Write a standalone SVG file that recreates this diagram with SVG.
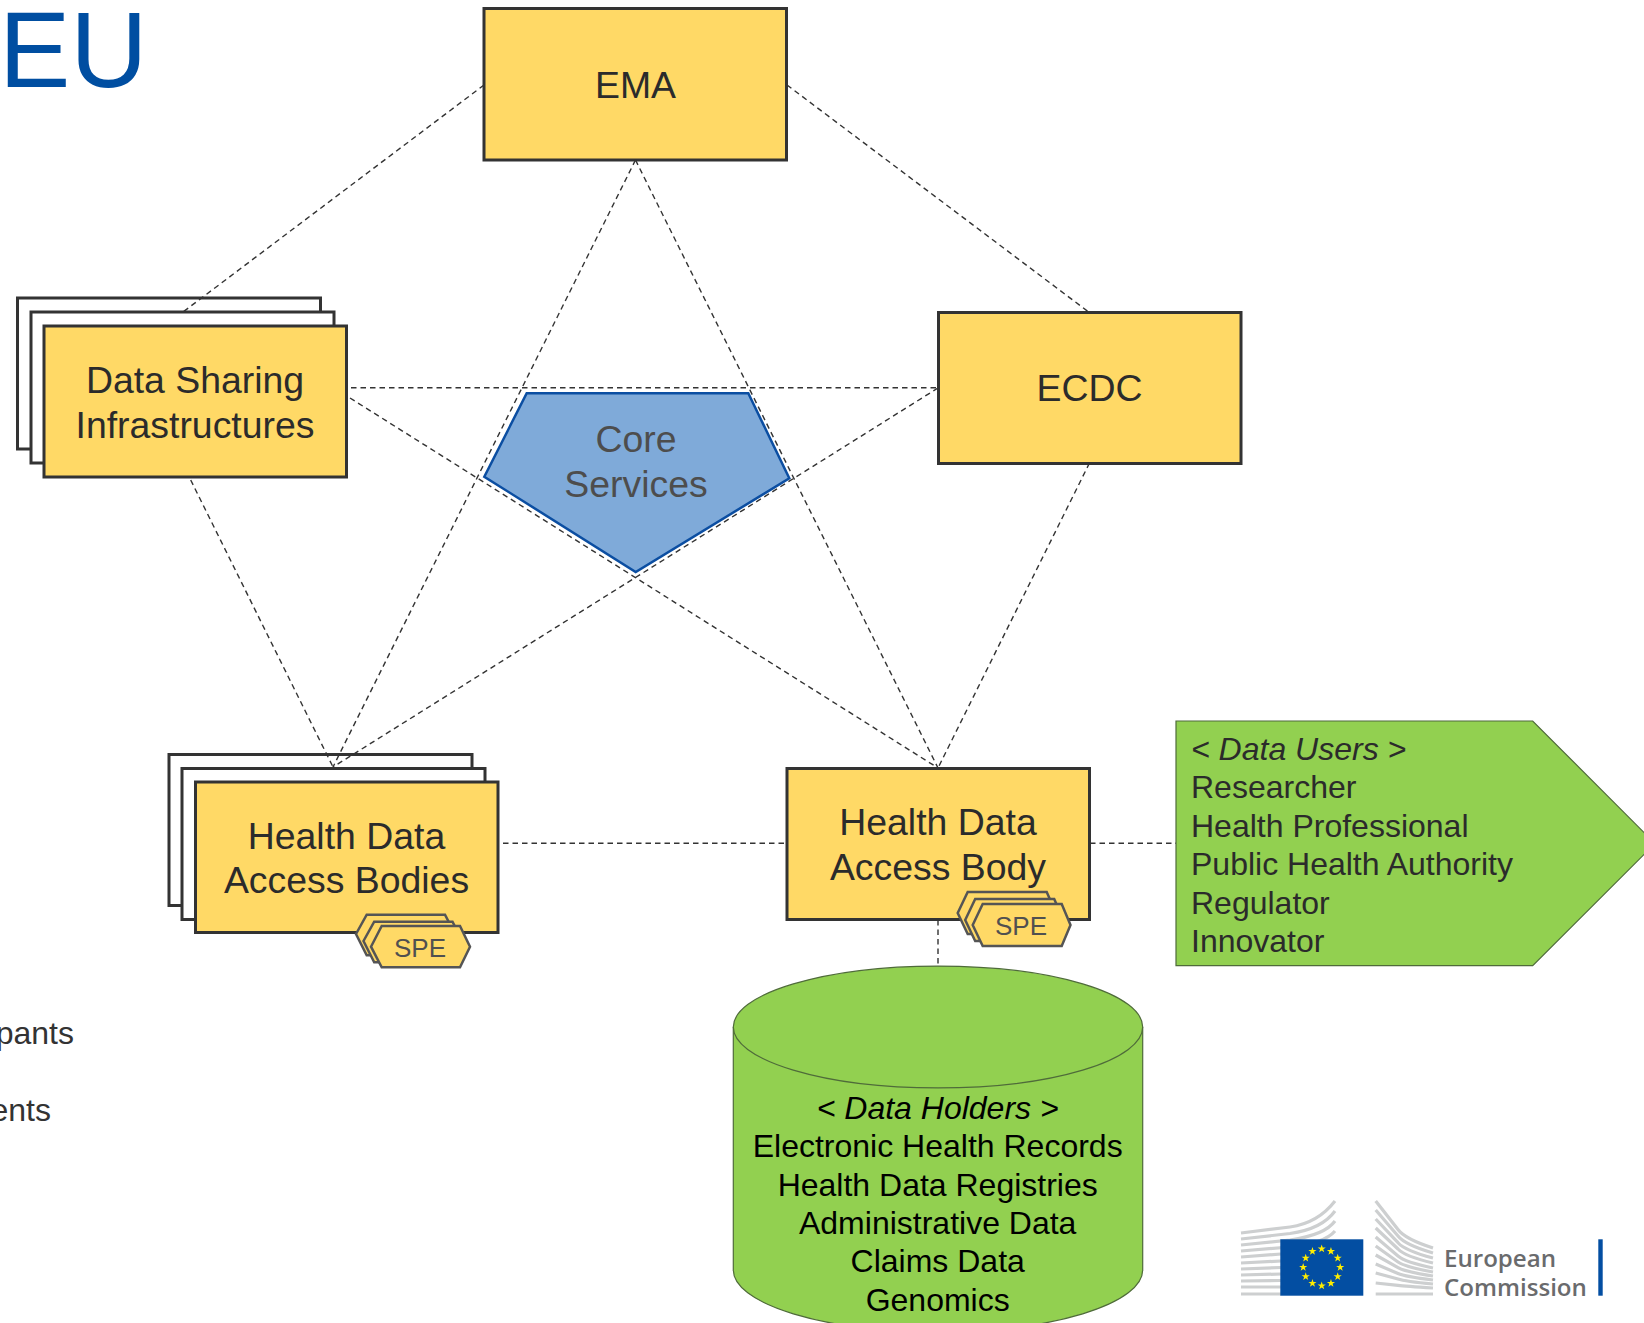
<svg xmlns="http://www.w3.org/2000/svg" width="1644" height="1323" viewBox="0 0 1644 1323">
<style>
text{font-family:"Liberation Sans",Arial,sans-serif}
.box{fill:#ffd966;stroke:#333;stroke-width:3}
.back{fill:#fff;stroke:#333;stroke-width:3}
.hex{fill:#ffd966;stroke:#555;stroke-width:2.5;stroke-linejoin:miter}
.lbl{font-size:37.4px;fill:#2b2b2b;text-anchor:middle}
.spe{font-size:26px;fill:#505050;text-anchor:middle}
.grn{fill:#92d050;stroke:#4f6b3a;stroke-width:1.2}
.usr{font-size:32px;fill:#2b2b2b}
.hld{font-size:32px;fill:#000;text-anchor:middle}
.side{font-size:32px;fill:#333;text-anchor:end}
.con{fill:none;stroke:#333;stroke-width:1.4;stroke-dasharray:5.5 4}
.st{fill:none;stroke:#cdcfd0;stroke-width:3.2}
.ec{font-family:"Open Sans",sans-serif;font-size:24.1px;font-weight:600;fill:#6a6b6d}
</style>
<defs>
<polygon id="star" fill="#ffed00" points="0,-4.3 1,-1.36 4.1,-1.33 1.6,.52 2.53,3.48 0,1.7 -2.53,3.48 -1.6,.52 -4.1,-1.33 -1,-1.36"/>
</defs>
<g id="title"><text x="-1" y="87" font-size="107" fill="#004ea1">EU</text></g>
<g id="side-text">
<text class="side" x="74" y="1044">pants</text>
<text class="side" x="51" y="1120.5">ents</text>
</g>
<g id="node-ema"><rect class="box" x="484" y="8.5" width="302.5" height="151.5"/><text class="lbl" x="635.5" y="98">EMA</text></g>
<g id="node-ecdc"><rect class="box" x="938.5" y="312.5" width="302.5" height="151"/><text class="lbl" x="1089.5" y="401">ECDC</text></g>
<g id="node-dsi">
<rect class="back" x="17.5" y="298" width="303" height="151"/>
<rect class="back" x="31" y="312" width="303" height="151"/>
<rect class="box" x="44" y="326" width="302.5" height="151"/>
<text class="lbl" x="195" y="392.7">Data Sharing</text>
<text class="lbl" x="195" y="438">Infrastructures</text>
</g>
<g id="node-core">
<polygon points="526.7,393.3 748.3,393.3 789.3,478.3 635.7,572 484.3,476.7" fill="#7faad9" stroke="#0b4ea2" stroke-width="2.5"/>
<text x="636" y="451.7" font-size="37.4" fill="#4d4d4d" text-anchor="middle">Core</text>
<text x="636" y="496.8" font-size="37.4" fill="#4d4d4d" text-anchor="middle">Services</text>
</g>
<g id="node-hdabs">
<rect class="back" x="169" y="754.5" width="303" height="151"/>
<rect class="back" x="182" y="768.5" width="303" height="151"/>
<rect class="box" x="195.5" y="782" width="302.5" height="150.5"/>
<text class="lbl" x="346.5" y="849">Health Data</text>
<text class="lbl" x="346.5" y="893">Access Bodies</text>
<polygon class="hex" points="356,934 366.7,914.7 445,914.7 455,934 445,955.3 366.7,955.3"/>
<polygon class="hex" points="363.5,941 374.2,921.7 452.5,921.7 462.5,941 452.5,962.3 374.2,962.3"/>
<polygon class="hex" points="371,946.7 381.7,926 460,926 470,946.7 460,967.3 381.7,967.3"/>
<text class="spe" x="420" y="956.7">SPE</text>
</g>
<g id="node-hdab">
<rect class="box" x="787" y="768.5" width="302.5" height="151"/>
<text class="lbl" x="938" y="835">Health Data</text>
<text class="lbl" x="938" y="880">Access Body</text>
<polygon class="hex" points="957.7,913 967.7,892 1046.7,892 1056,913 1046.7,934 967.7,934"/>
<polygon class="hex" points="965.2,920 975.2,899 1054.2,899 1063.5,920 1054.2,941 975.2,941"/>
<polygon class="hex" points="972.7,925 982.7,904 1061.7,904 1070.5,925 1061.7,946 982.7,946"/>
<text class="spe" x="1021" y="935">SPE</text>
</g>
<g id="node-users">
<polygon class="grn" points="1176,721 1532.7,721 1655,843.5 1532.7,965.7 1176,965.7"/>
<text class="usr" x="1191" y="759.7" font-style="italic">&lt; Data Users &gt;</text>
<text class="usr" x="1191" y="797.7">Researcher</text>
<text class="usr" x="1191" y="836.7">Health Professional</text>
<text class="usr" x="1191" y="875.3">Public Health Authority</text>
<text class="usr" x="1191" y="914">Regulator</text>
<text class="usr" x="1191" y="951.7">Innovator</text>
</g>
<g id="node-holders">
<path class="grn" d="M733.3 1027V1270A204.7 62 0 0 0 1142.7 1270V1027A204.7 61 0 0 0 733.3 1027Z"/>
<path class="grn" style="fill:none" d="M733.3 1027A204.7 61 0 0 0 1142.7 1027"/>
<text class="hld" x="937.7" y="1119" font-style="italic">&lt; Data Holders &gt;</text>
<text class="hld" x="937.7" y="1156.7">Electronic Health Records</text>
<text class="hld" x="937.7" y="1196">Health Data Registries</text>
<text class="hld" x="937.7" y="1234">Administrative Data</text>
<text class="hld" x="937.7" y="1272">Claims Data</text>
<text class="hld" x="937.7" y="1311">Genomics</text>
</g>
<g id="connectors">
<path class="con" d="M484 85L183 312"/>
<path class="con" d="M787 85L1090 313"/>
<path class="con" d="M635.5 160L333 767"/>
<path class="con" d="M635.5 160L938 768"/>
<path class="con" d="M351 387.7H938"/>
<path class="con" d="M350 398L938 768"/>
<path class="con" d="M190.7 480L333 767"/>
<path class="con" d="M938 388L333 767"/>
<path class="con" d="M1089.5 463L938 768"/>
<path class="con" d="M503 843.3H787"/>
<path class="con" d="M1090 843.3H1176"/>
<path class="con" d="M938 920V966"/>
</g>
<g id="logo">
<path class="st" d="M1241 1233L1290 1227Q1318 1223 1335 1201"/>
<path class="st" d="M1241 1239L1290 1233.5Q1322 1229 1335 1211"/>
<path class="st" d="M1241 1245L1290 1240Q1325 1235 1335 1221"/>
<path class="st" d="M1241 1251L1290 1247Q1325 1243 1335 1231"/>
<path class="st" d="M1241 1257L1281 1254"/>
<path class="st" d="M1241 1263L1281 1261"/>
<path class="st" d="M1241 1269L1281 1267.5"/>
<path class="st" d="M1241 1275L1281 1274"/>
<path class="st" d="M1241 1281L1281 1280.5"/>
<path class="st" d="M1241 1287L1281 1287"/>
<path class="st" d="M1241 1294H1281"/>
<path class="st" d="M1375.7 1201L1398 1229.5Q1405 1239 1433 1248"/>
<path class="st" d="M1375.7 1210L1398 1236Q1405 1244.8 1433 1253"/>
<path class="st" d="M1375.7 1219L1398 1242.7Q1405 1250.6 1433 1258"/>
<path class="st" d="M1375.7 1228L1398 1249Q1405 1256.4 1433 1263"/>
<path class="st" d="M1375.7 1237L1398 1256Q1405 1262.2 1433 1268"/>
<path class="st" d="M1375.7 1246L1398 1262Q1405 1267 1433 1272"/>
<path class="st" d="M1375.7 1255L1398 1267.6Q1405 1271.8 1433 1276"/>
<path class="st" d="M1375.7 1264L1398 1273.5Q1405 1276.6 1433 1280"/>
<path class="st" d="M1375.7 1273L1398 1279Q1405 1281.4 1433 1284"/>
<path class="st" d="M1375.7 1283L1398 1285.4Q1405 1286.2 1433 1288"/>
<path class="st" d="M1375.7 1294H1433"/>
<rect x="1280.3" y="1239.3" width="83" height="56.4" fill="#034ea2"/>
<g transform="translate(1321.7 1267.3)">
<use href="#star" x="0" y="-18.5"/><use href="#star" x="9.25" y="-16"/><use href="#star" x="16" y="-9.25"/><use href="#star" x="18.5" y="0"/><use href="#star" x="16" y="9.25"/><use href="#star" x="9.25" y="16"/><use href="#star" x="0" y="18.5"/><use href="#star" x="-9.25" y="16"/><use href="#star" x="-16" y="9.25"/><use href="#star" x="-18.5" y="0"/><use href="#star" x="-16" y="-9.25"/><use href="#star" x="-9.25" y="-16"/>
</g>
<text class="ec" x="1444" y="1267">European</text>
<text class="ec" x="1444" y="1295.5">Commission</text>
<rect x="1598.3" y="1239.3" width="4.4" height="56.4" fill="#034ea2"/>
</g>
</svg>
